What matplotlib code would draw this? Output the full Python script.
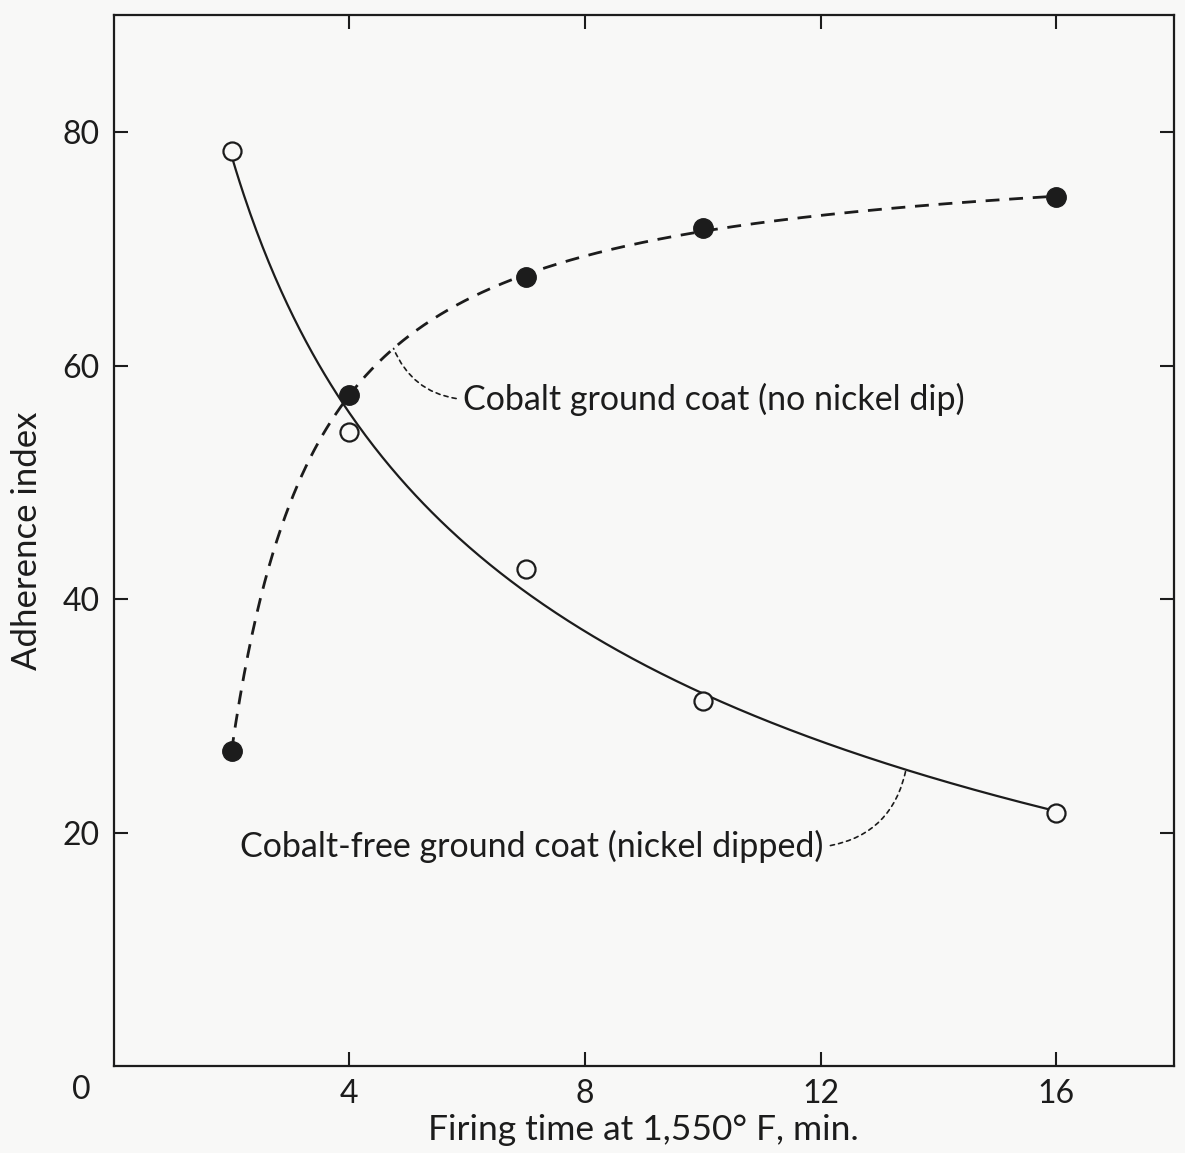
import numpy as np
import matplotlib
matplotlib.use("Agg")
import matplotlib.pyplot as plt

# ---- data ----
firing_time = [2, 4, 7, 10, 16]
cobalt_free_nickel_dipped = [78.4, 54.3, 42.6, 31.25, 21.7]   # open circles, solid curve
cobalt_no_nickel = [27.0, 57.5, 67.6, 71.75, 74.4]            # filled circles, dashed curve

x_ticks = [4, 8, 12, 16]
y_ticks = [20, 40, 60, 80]

label_cobalt = "Cobalt ground coat (no nickel dip)"
label_free = "Cobalt-free ground coat (nickel dipped)"
x_label = "Firing time at 1,550\u00b0 F, min."
y_label = "Adherence index"

INK = "#1c1c1c"
BG = "#f8f8f7"
plt.rcParams['font.family'] = ['Lato', 'DejaVu Sans']

fig = plt.figure(figsize=(11.85, 11.53), dpi=100, facecolor=BG)
ax = fig.add_axes([0.096, 0.0752, 0.8947, 0.9117])
ax.set_facecolor(BG)

# smooth fitted curves through the measured points
t = np.array(firing_time, dtype=float)
xs = np.linspace(t.min(), t.max(), 400)
p_free = np.polyfit(np.log(t), cobalt_free_nickel_dipped, 2)
p_co = np.polyfit(1.0 / t, cobalt_no_nickel, 2)
free_fit = lambda x: np.polyval(p_free, np.log(x))
co_fit = lambda x: np.polyval(p_co, 1.0 / x)

ax.plot(xs, free_fit(xs), color=INK, lw=1.6, solid_capstyle='butt')
ax.plot(xs, co_fit(xs), color=INK, lw=2.0, dashes=(5, 3.5))

ax.plot(firing_time, cobalt_free_nickel_dipped, 'o', ms=13, mfc=BG, mec=INK, mew=1.6, zorder=5)
ax.plot(firing_time, cobalt_no_nickel, 'o', ms=14, mfc=INK, mec=INK, mew=1.0, zorder=5)

ax.set_xlim(0, 18)
ax.set_ylim(0, 90)
ax.set_xticks(x_ticks)
ax.set_yticks(y_ticks)
ax.tick_params(direction='in', length=10, width=1.5, color=INK, labelsize=23,
               labelcolor=INK, top=True, right=True)
ax.tick_params(axis='x', pad=9)
ax.tick_params(axis='y', pad=10)
for s in ax.spines.values():
    s.set_linewidth(1.6)
    s.set_color(INK)

ax.annotate("0", xy=(0, 0), xytext=(-32, -24), textcoords='offset pixels',
            ha='center', va='center', fontsize=23, color=INK, annotation_clip=False)

ax.set_xlabel(x_label, fontsize=25.5, color=INK, labelpad=4)
ax.set_ylabel(y_label, fontsize=25, color=INK, labelpad=14)

dot = dict(arrowstyle='-', color=INK, lw=1.2, linestyle=(0, (2.5, 2.5)),
           shrinkA=3, shrinkB=0)
xa = 4.75
ax.annotate(label_cobalt, xy=(xa, co_fit(xa)), xytext=(5.93, 57.1),
            ha='left', va='center', fontsize=24.5, color=INK,
            arrowprops=dict(dot, relpos=(0, 0.5), connectionstyle='arc3,rad=-0.3'))
xb = 13.45
ax.annotate(label_free, xy=(xb, free_fit(xb)), xytext=(12.05, 18.8),
            ha='right', va='center', fontsize=24.5, color=INK,
            arrowprops=dict(dot, relpos=(1, 0.5), connectionstyle='arc3,rad=0.35'))

fig.savefig("out.png", dpi=100, facecolor=BG)
